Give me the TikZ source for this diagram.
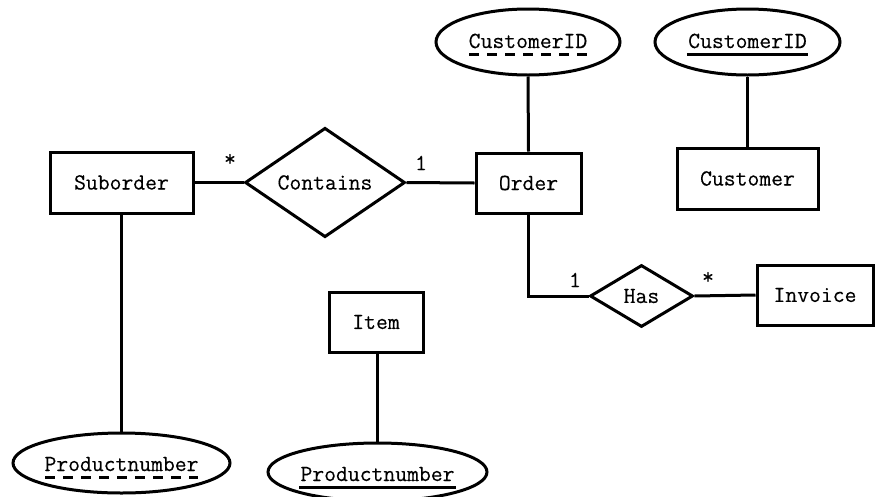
\documentclass[tikz,border=0pt]{standalone}
\usepackage{fontspec}
\setmonofont{Latin Modern Mono}[FakeBold=0.3]
\usetikzlibrary{shapes.geometric,calc}
\begin{document}
\begin{tikzpicture}[x=1pt,y=-1pt,line width=3pt,
  every node/.style={font=\fontsize{23}{27}\selectfont\ttfamily},
  entity/.style={draw,rectangle,inner sep=0pt},
  attrib/.style={draw,ellipse,inner sep=0pt},
  attrtext/.style={inner sep=0pt,anchor=base},
  keyline/.style={line width=3pt},
  partkey/.style={line width=3pt,dash pattern=on 10pt off 8pt},
  card/.style={inner sep=0pt}]
\useasboundingbox (0,0) rectangle (875,496);

% entities
\node[entity,minimum width=143pt,minimum height=61pt] (suborder) at (121.5,182.5) {Suborder};
\node[entity,minimum width=105pt,minimum height=60pt] (order) at (528.5,183) {Order};
\node[entity,minimum width=141pt,minimum height=61pt] (customer) at (747.5,178.5) {Customer};
\node[entity,minimum width=116pt,minimum height=60pt] (invoice) at (815,295) {Invoice};
\node[entity,minimum width=94pt,minimum height=60pt] (item) at (376,322) {Item};

% relationships
\node[draw,diamond,inner sep=0pt,minimum width=160pt,minimum height=95pt] (contains) at (325,182.5) {Contains};
\node[draw,diamond,inner sep=0pt,minimum width=103pt,minimum height=62pt] (has) at (641.5,296) {Has};

% attributes
\node[attrib,minimum width=184pt,minimum height=66pt] (cidweak) at (528,42) {};
\node[attrtext] (cidweakt) at (528,48) {CustomerID};
\node[attrib,minimum width=185pt,minimum height=66pt] (cidkey) at (747.5,42) {};
\node[attrtext] (cidkeyt) at (747.5,48) {CustomerID};
\node[attrib,minimum width=217pt,minimum height=60pt] (pnweak) at (121.5,463) {};
\node[attrtext] (pnweakt) at (121.5,471) {Productnumber};
\node[attrib,minimum width=219pt,minimum height=58pt] (pnkey) at (377.5,472) {};
\node[attrtext] (pnkeyt) at (377.5,481) {Productnumber};

% key underlines
\draw[partkey] ($(cidweakt.base west)+(2,6)$) -- ($(cidweakt.base east)+(-2,6)$);
\draw[keyline] ($(cidkeyt.base west)+(0,6)$) -- ($(cidkeyt.base east)+(0,6)$);
\draw[partkey] ($(pnweakt.base west)+(2,6)$) -- ($(pnweakt.base east)+(-2,6)$);
\draw[keyline] ($(pnkeyt.base west)+(0,6)$) -- ($(pnkeyt.base east)+(0,6)$);

% connectors
\draw (suborder.east) -- (contains.west);
\draw (contains.east) -- (order.west);
\draw (order.north) -- (cidweak.south);
\draw (customer.north -| cidkey.south) -- (cidkey.south);
\draw (order.south) |- (has.west);
\draw (has.east) -- (invoice.west);
\draw (suborder.south) -- (pnweak.north);
\draw (item.south -| pnkey.north) -- (pnkey.north);

% cardinalities
\node[card] (c1) at (230,160) {*};
\node[card] (c2) at (421,163) {1};
\node[card] (c3) at (575,280) {1};
\node[card] (c4) at (708,278) {*};
\end{tikzpicture}
\end{document}
